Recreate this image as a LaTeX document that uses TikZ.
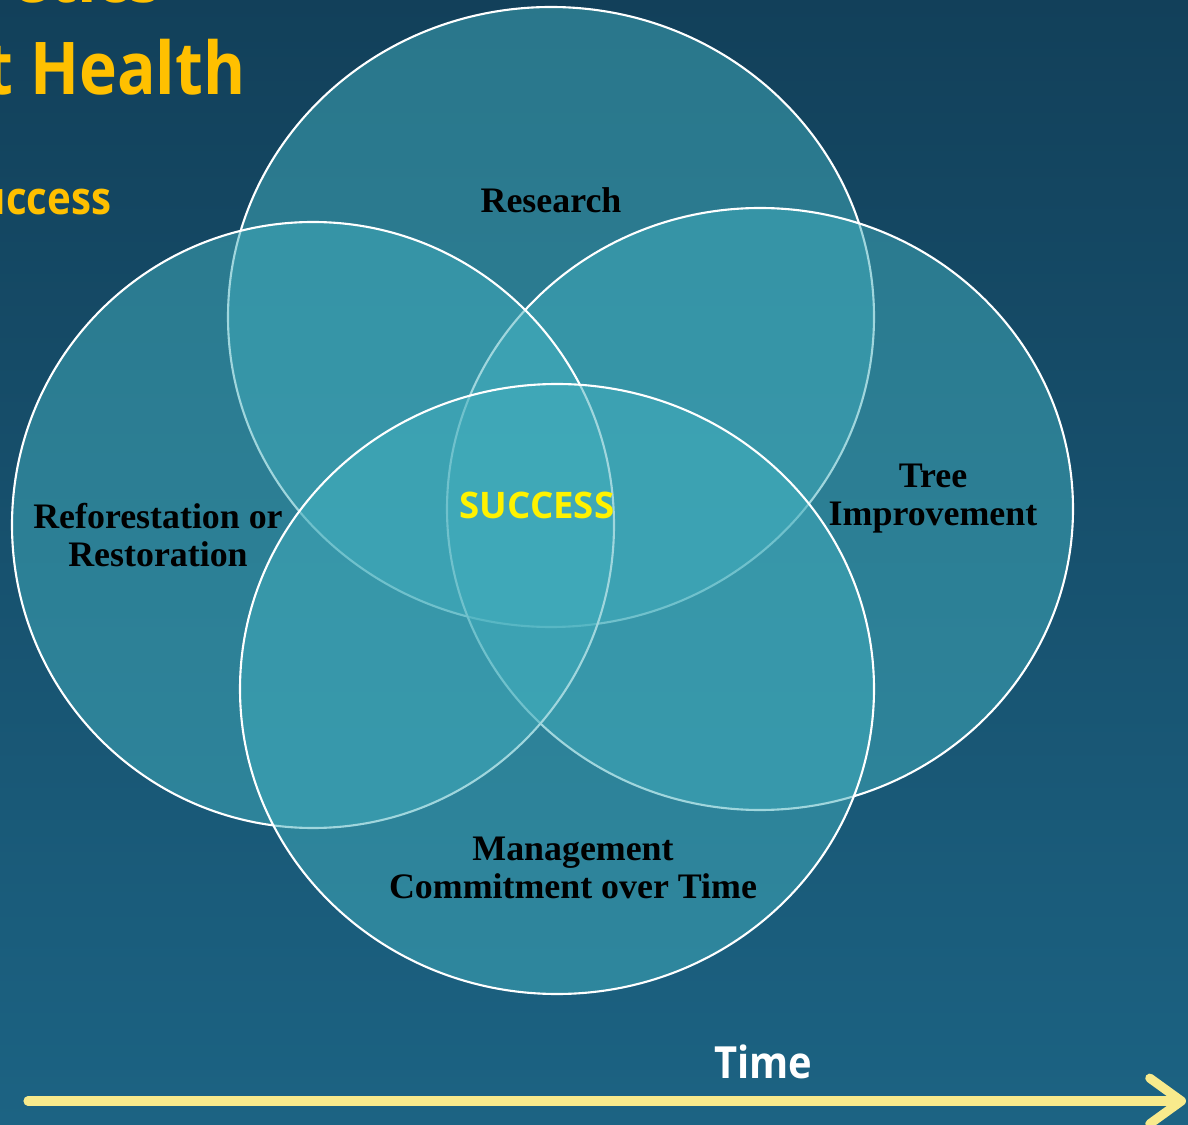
\documentclass[tikz,border=0pt]{standalone}
\usepackage{fontspec}
\setmainfont{Liberation Serif}
\newfontfamily\slidefont{Open Sans}
\usetikzlibrary{arrows.meta}

\definecolor{slidetop}{HTML}{12405A}
\definecolor{slidebot}{HTML}{1C6383}
\definecolor{ringfill}{HTML}{42AEBD}
\definecolor{titleyellow}{HTML}{FFC000}
\definecolor{timeline}{HTML}{F8EA8C}

\tikzset{
  ring/.style={draw=white, line width=0.6pt, fill=ringfill, fill opacity=0.5},
  ringlabel/.style={inner sep=0pt, align=center, text=black, font=\fontsize{10.2}{10.8}\selectfont\bfseries},
  titletext/.style={inner sep=0pt, text=titleyellow, anchor=base east, xscale=0.88, transform shape},
}

\begin{document}
\begin{tikzpicture}[x=0.01cm, y=-0.01cm]

\shade[top color=slidetop, bottom color=slidebot] (0,0) rectangle (1188,1125);	% background
\useasboundingbox (0,0) rectangle (1188,1125);
\clip (0,0) rectangle (1188,1125);

% heading, cut off at the left edge
\node[titletext, font=\slidefont\bfseries\fontsize{20.7}{24}\selectfont] (head1) at (162,3) {etics};
\node[titletext, font=\slidefont\bfseries\fontsize{20.7}{24}\selectfont] (head2) at (246,95) {t Health};
\node[titletext, font=\slidefont\bfseries\fontsize{13}{15}\selectfont] (head3) at (112,215) {uccess};

% the four rings
\filldraw[ring] (551,317) ellipse [x radius=323, y radius=310];			% Research
\filldraw[ring] (760,509) ellipse [x radius=313, y radius=301];			% Tree improvement
\filldraw[ring] (313,525) ellipse [x radius=301, y radius=303];			% Reforestation
\filldraw[ring] (557,689) ellipse [x radius=317, y radius=305];			% Management

\node[ringlabel] (research) at (551,200) {Research};
\node[ringlabel] (tree) at (933,499) {Tree\\Improvement};
\node[ringlabel] (refor) at (158,535) {Reforestation or\\Restoration};
\node[ringlabel] (manage) at (573,868) {Management\\Commitment over Time};

\node[inner sep=0pt, text=yellow, font=\slidefont\bfseries\fontsize{10.4}{12}\selectfont] (success) at (537,505) {SUCCESS};

% time axis
\coordinate (tstart) at (28,1101);
\coordinate (tend) at (1186,1101);
\draw[timeline, line width=2.6pt, line cap=round, -{Straight Barb[length=9pt, width=13pt, round]}] (tstart) -- (tend);
\node[inner sep=0pt, text=white, xscale=0.9, transform shape, font=\slidefont\bfseries\fontsize{12.6}{15}\selectfont] (time) at (763,1062) {Time};

\end{tikzpicture}
\end{document}
